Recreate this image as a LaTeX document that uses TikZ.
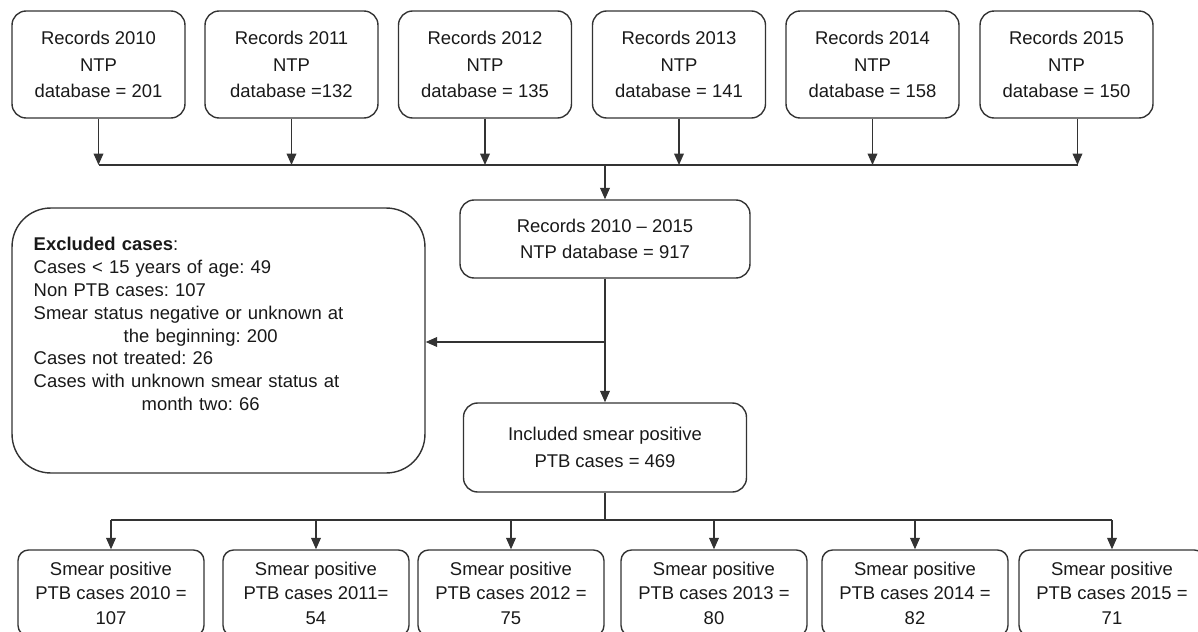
\documentclass[tikz,border=0pt]{standalone}
\usepackage{fontspec}
\setmainfont{Liberation Sans}
\usetikzlibrary{positioning,calc,arrows.meta}
\frenchspacing

\begin{document}
\begin{tikzpicture}[x=0.02cm,y=-0.02cm,
    line width=0.8pt,color=black!80,
    font=\fontsize{10.5}{15}\selectfont,
    every node/.style={text=black!90},
    box/.style={draw,rounded corners=8pt,align=center,inner sep=2pt},
    recbox/.style={box,minimum width=3.46cm,minimum height=2.14cm},
    spbox/.style={box,rounded corners=6pt,minimum width=3.72cm,minimum height=1.72cm,
        font=\fontsize{10.5}{14}\selectfont},
    arr/.style={-{Triangle[length=6.5pt,width=5.5pt]}}]
\useasboundingbox (0,0) rectangle (1198,632);
\clip (0,0) rectangle (1198,632);

% yearly records
\foreach \yr/\cnt/\x in {2010/{= 201}/98.5,2011/{=132}/291.5,2012/{= 135}/485,
    2013/{= 141}/679,2014/{= 158}/872.5,2015/{= 150}/1066.5}
  \node[recbox] (rec\yr) at (\x,64.5) {Records \yr\\NTP\\database \cnt};

\coordinate (join) at (605,165);
\foreach \yr in {2010,...,2014}
  \draw[arr] (rec\yr.south) -- (rec\yr.south |- join);
\draw[arr] ([xshift=0.22cm]rec2015.south) -- ([xshift=0.22cm]rec2015.south |- join);
\draw (rec2010.south |- join) -- ([xshift=0.22cm]rec2015.south |- join);

\node[box,minimum width=5.8cm,minimum height=1.56cm] (all) at (605,239)
  {Records 2010 -- 2015\\NTP database = 917};
\draw[arr] (join) -- (all);

% exclusions
\node[box,rounded corners=22pt,minimum width=8.26cm,minimum height=5.3cm] (excl) at (218.5,340.5) {};
\node[text width=6.68cm,align=left,anchor=west,inner sep=0pt,
    font=\fontsize{10.5}{13}\selectfont] (excltxt) at (33,324)
  {\textbf{Excluded cases}:\\
   Cases < 15 years of age: 49\\
   Non PTB cases: 107\\
   Smear status negative or unknown at\\
   \makebox[6.68cm][c]{the beginning: 200}\\
   Cases not treated: 26\\
   Cases with unknown smear status at\\
   \makebox[6.68cm][c]{month two: 66}};

\node[box,minimum width=5.66cm,minimum height=1.78cm] (incl) at (605,447.5)
  {Included smear positive\\PTB cases = 469};
\coordinate (split) at (605,342);
\draw[arr] (all) -- (incl);
\draw[arr] (split) -- (split -| excl.east);

% smear positive per year
\foreach \yr/\cnt/\x in {2010/{ =\\107}/111,2011/{=\\54}/316,2012/{ =\\75}/511,
    2013/{ =\\80}/714,2014/{ =\\82}/915,2015/{ =\\71}/1112}
  \node[spbox] (sp\yr) at (\x,593) {Smear positive\\PTB cases \yr\cnt};

\coordinate (fork) at (605,520);
\draw (incl) -- (fork);
\draw (sp2010.north |- fork) -- (sp2015.north |- fork);
\foreach \yr in {2010,...,2015}
  \draw[arr] (sp\yr.north |- fork) -- (sp\yr);
\end{tikzpicture}
\end{document}
